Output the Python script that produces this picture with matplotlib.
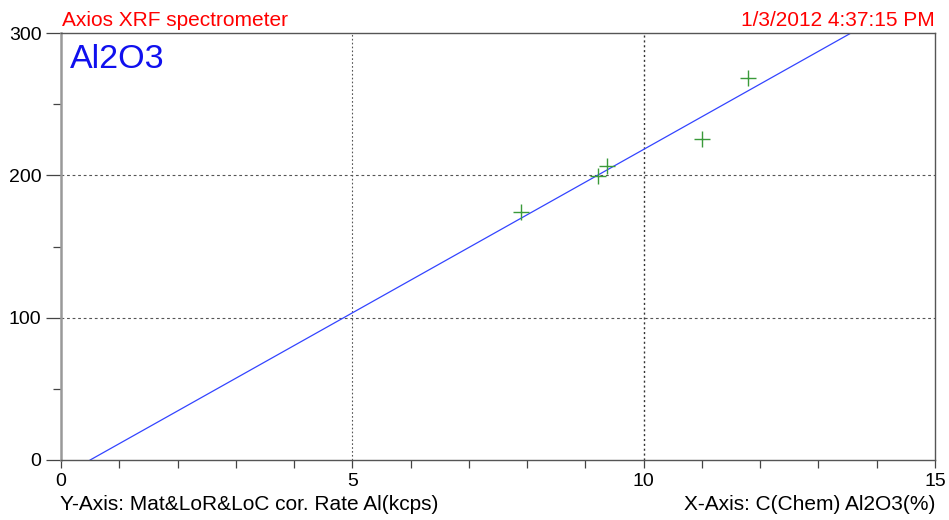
import numpy as np
import matplotlib
matplotlib.use("Agg")
import matplotlib.pyplot as plt

plt.rcParams["font.family"] = ["Liberation Sans", "DejaVu Sans"]

# measured standards (chemical conc %, corrected rate kcps)
conc = [7.89, 9.22, 9.37, 11.0, 11.79]
rate = [174.3, 199.6, 206.6, 225.6, 268.4]
# calibration line endpoints
line_x = [0.50, 13.56]
line_y = [0.0, 300.0]
xticks = [0, 5, 10, 15]
yticks = [0, 100, 200, 300]

fig = plt.figure(figsize=(9.49, 5.2), dpi=100)
ax = fig.add_axes([61/949, 60/520, 874/949, 427/520])
ax.set_xlim(0, 15); ax.set_ylim(0, 300)

for v in (5, 10):
    ax.axvline(v, color="#333333" if v == 10 else "#555555", ls=(0, (1.5, 2)), lw=1.0 if v == 10 else 0.8, zorder=1)
for v in (100, 200):
    ax.axhline(v, color="#555555", ls=(0, (2.5, 2.5)), lw=0.8, zorder=1)

ax.plot(line_x, line_y, color="#3344ff", lw=0.9, zorder=2)
ax.plot(conc, rate, ls="none", marker="+", ms=11, mew=1.0, color="#3a9a3a", zorder=3)

ax.set_xticks(xticks); ax.set_yticks(yticks)
ax.set_xticks(np.arange(0, 15.1, 1), minor=True)
ax.set_yticks(np.arange(0, 301, 50), minor=True)
ax.tick_params(which="major", direction="out", length=11, width=0.9, color="#444444", labelsize=14, pad=3)
ax.tick_params(which="minor", direction="out", length=6, width=0.9, color="#444444")
ax.tick_params(axis="x", which="major", length=6)
for s in ("top", "right", "bottom"):
    ax.spines[s].set_color("#555555"); ax.spines[s].set_linewidth(1.0)
ax.spines["left"].set_color("#999999"); ax.spines["left"].set_linewidth(1.8)

fig.text(62/949, 1 - 21/520, "Axios XRF spectrometer", color="red", fontsize=15, va="center", ha="left")
fig.text(935/949, 1 - 21/520, "1/3/2012 4:37:15 PM", color="red", fontsize=15, va="center", ha="right")
ax.text(0.01, 0.975, "Al2O3", transform=ax.transAxes, color="#1010ee", fontsize=24.5, va="top", ha="left")
fig.text(60/949, 1 - 505/520, "Y-Axis: Mat&LoR&LoC cor. Rate Al(kcps)", color="black", fontsize=15, va="center", ha="left")
fig.text(935/949, 1 - 505/520, "X-Axis: C(Chem) Al2O3(%)", color="black", fontsize=15, va="center", ha="right")

fig.savefig("out.png", dpi=100)
